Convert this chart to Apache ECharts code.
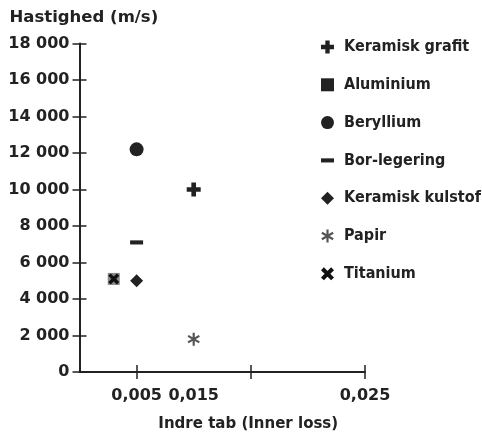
<!DOCTYPE html>
<html>
<head>
<meta charset="utf-8">
<script src="https://cdn.jsdelivr.net/npm/echarts@6/dist/echarts.min.js"></script>
<style>
  html, body { margin: 0; padding: 0; background: #fff; }
  #chart { width: 482px; height: 437px; }
</style>
</head>
<body>
<div id="chart"></div>
<script>
// data: [inner loss, speed m/s]
const grafit = [[0.010, 10000]];
const aluminium = [[0.003, 5100]];
const beryllium = [[0.005, 12200]];
const borLegering = [[0.005, 7100]];
const kulstof = [[0.005, 5000]];
const papir = [[0.010, 1800]];
const titanium = [[0.003, 5100]];

const xTickValues = [0.005, 0.015, 0.025];
const xLabelValues = [0.005, 0.010, 0.025]; // the "0,015" label sits under the marks, not under its tick
const xLabelTexts = ['0,005', '0,015', '0,025'];

const ink = '#222';

// filled path made of rotated bars (for +, x, * and -)
function bars(angles, len, w) {
  let d = '';
  angles.forEach(function (a) {
    const r = a * Math.PI / 180, c = Math.cos(r), s = Math.sin(r);
    const pts = [[-len / 2, -w / 2], [len / 2, -w / 2], [len / 2, w / 2], [-len / 2, w / 2]];
    d += pts.map(function (p, i) {
      const x = p[0] * c - p[1] * s + 10, y = p[0] * s + p[1] * c + 10;
      return (i ? 'L' : 'M') + x.toFixed(2) + ' ' + y.toFixed(2);
    }).join(' ') + ' Z ';
  });
  return 'path://' + d;
}

const plusIcon = bars([0, 90], 12, 4);
const dashIcon = bars([0], 12, 3.8);
const starIcon = bars([90, 30, 150], 12, 2);
const crossIcon = bars([45, 135], 12, 3.4);

const fmtY = v => String(v).replace(/\B(?=(\d{3})+(?!\d))/g, ' ');

const seriesDefs = [
  { name: 'Keramisk grafit', data: grafit, symbol: plusIcon, size: 14, color: ink },
  { name: 'Aluminium', data: aluminium, symbol: 'rect', size: 12, color: '#888', legendColor: ink },
  { name: 'Beryllium', data: beryllium, symbol: 'circle', size: 14, color: ink },
  { name: 'Bor-legering', data: borLegering, symbol: dashIcon, size: 13, color: ink },
  { name: 'Keramisk kulstof', data: kulstof, symbol: 'diamond', size: 13, color: ink },
  { name: 'Papir', data: papir, symbol: starIcon, size: 13, color: '#555' },
  { name: 'Titanium', data: titanium, symbol: crossIcon, size: 11, color: '#111' }
];

const myChart = echarts.init(document.getElementById('chart'));

const tickAxisCommon = {
  type: 'value', min: 0, max: 0.025, position: 'bottom',
  axisLabel: { show: false }, axisLine: { show: false }, splitLine: { show: false },
  axisTick: { show: true, customValues: xTickValues, length: 7, lineStyle: { color: ink, width: 1.5 } }
};

const option = {
  animation: false,
  backgroundColor: '#fff',
  grid: { left: 79.5, right: 117, top: 43.5, bottom: 59.5 },
  xAxis: [
    {
      type: 'value', min: 0, max: 0.025, position: 'bottom',
      name: 'Indre tab (Inner loss)', nameLocation: 'middle', nameGap: 45,
      nameTextStyle: { fontFamily: 'DejaVu Sans', fontWeight: 'bold', fontSize: 15, color: ink, padding: [0, 0, 0, 52] },
      axisLine: { show: true, lineStyle: { color: ink, width: 2 } },
      axisTick: { show: true, customValues: xTickValues, length: 7, lineStyle: { color: ink, width: 1.5 } },
      axisLabel: {
        customValues: xLabelValues, margin: 16,
        fontFamily: 'DejaVu Sans', fontWeight: 'bold', fontSize: 16, color: ink,
        formatter: v => xLabelTexts[xLabelValues.findIndex(p => Math.abs(p - v) < 1e-9)]
      },
      splitLine: { show: false }
    },
    Object.assign({}, tickAxisCommon, { axisTick: Object.assign({}, tickAxisCommon.axisTick, { inside: true }) })
  ],
  yAxis: [
    {
      type: 'value', min: 0, max: 18000, interval: 2000, position: 'left',
      name: 'Hastighed (m/s)', nameLocation: 'end', nameGap: 17,
      nameTextStyle: { fontFamily: 'DejaVu Sans', fontWeight: 'bold', fontSize: 16.5, color: ink, align: 'left', padding: [0, 0, 0, -70] },
      axisLine: { show: true, lineStyle: { color: ink, width: 2 } },
      axisTick: { show: true, length: 7, lineStyle: { color: ink, width: 1.5 } },
      axisLabel: { margin: 10, fontFamily: 'DejaVu Sans', fontWeight: 'bold', fontSize: 16, color: ink, formatter: fmtY },
      splitLine: { show: false }
    },
    {
      type: 'value', min: 0, max: 18000, interval: 2000, position: 'left',
      axisLine: { show: false }, axisLabel: { show: false }, splitLine: { show: false },
      axisTick: { show: true, inside: true, length: 7, lineStyle: { color: ink, width: 1.5 } }
    }
  ],
  legend: {
    orient: 'vertical', left: 316, top: 32,
    itemWidth: 13, itemHeight: 13, itemGap: 17.8,
    symbolKeepAspect: true,
    textStyle: { fontFamily: 'DejaVu Sans Condensed', fontWeight: 'bold', fontSize: 16, lineHeight: 20, color: ink, padding: [0, 0, 0, 5] },
    data: seriesDefs.map(s => ({ name: s.name, icon: s.symbol, itemStyle: { color: s.legendColor || s.color } }))
  },
  series: seriesDefs.map(s => ({
    type: 'scatter', name: s.name, data: s.data,
    xAxisIndex: 0, yAxisIndex: 0,
    symbol: s.symbol, symbolSize: s.size, symbolKeepAspect: true,
    itemStyle: { color: s.color, opacity: 1 },
    emphasis: { disabled: true }
  }))
};

myChart.setOption(option);
</script>
</body>
</html>
